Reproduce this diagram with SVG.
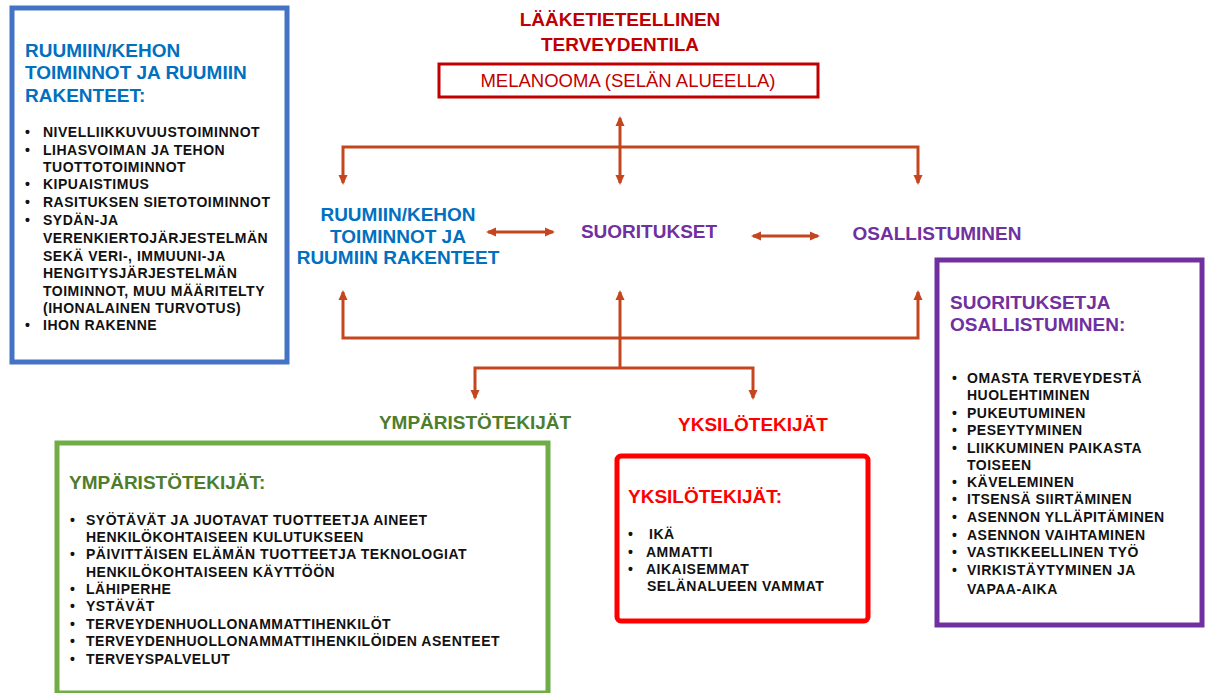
<svg xmlns="http://www.w3.org/2000/svg" width="1208" height="693" viewBox="0 0 1208 693">
<defs>
<style>
text{font-family:"Liberation Sans",Arial,sans-serif;font-weight:bold}
.t18{font-size:19px}
.t17{font-size:19px}
.b{font-size:14px;fill:#111;letter-spacing:0.5px}
.blue{fill:#0070C0}
.purple{fill:#7030A0}
.green{fill:#4E7D2C}
.red{fill:#FF0000}
.dred{fill:#C00000}
.conn path{fill:none;stroke:#C4461E;stroke-width:3}
</style>
<marker id="ah" viewBox="0 0 10 10" refX="8" refY="5" markerWidth="10" markerHeight="10" markerUnits="userSpaceOnUse" orient="auto-start-reverse"><path d="M0,0.5 L10,5 L0,9.5 z" fill="#C4461E"/></marker>
</defs>
<rect width="1208" height="693" fill="#fff"/>

<g id="kehon-box">
<rect x="12" y="8" width="275" height="354" fill="#fff" stroke="#4472C4" stroke-width="5"/>
<text class="t18 blue" x="25" y="57">RUUMIIN/KEHON</text>
<text class="t18 blue" x="25" y="79">TOIMINNOT JA RUUMIIN</text>
<text class="t18 blue" x="25" y="102">RAKENTEET:</text>
<g class="b">
<text x="25" y="137">•</text><text x="43" y="137">NIVELLIIKKUVUUSTOIMINNOT</text>
<text x="25" y="155">•</text><text x="43" y="155">LIHASVOIMAN JA TEHON</text>
<text x="43" y="172">TUOTTOTOIMINNOT</text>
<text x="25" y="189">•</text><text x="43" y="189">KIPUAISTIMUS</text>
<text x="25" y="207">•</text><text x="43" y="207">RASITUKSEN SIETOTOIMINNOT</text>
<text x="25" y="225">•</text><text x="43" y="225">SYDÄN-JA</text>
<text x="43" y="243">VERENKIERTOJÄRJESTELMÄN</text>
<text x="43" y="261">SEKÄ VERI-, IMMUUNI-JA</text>
<text x="43" y="278">HENGITYSJÄRJESTELMÄN</text>
<text x="43" y="296">TOIMINNOT, MUU MÄÄRITELTY</text>
<text x="43" y="313">(IHONALAINEN TURVOTUS)</text>
<text x="25" y="330">•</text><text x="43" y="330">IHON RAKENNE</text>
</g>
</g>

<g id="terveydentila">
<text class="t17 dred" x="620" y="26" text-anchor="middle">LÄÄKETIETEELLINEN</text>
<text class="t17 dred" x="620" y="51" text-anchor="middle">TERVEYDENTILA</text>
<rect x="439" y="64" width="379" height="33" fill="#fff" stroke="#C00000" stroke-width="3"/>
<text x="628" y="87" text-anchor="middle" style="font-weight:normal;font-size:18.5px;fill:#C00000">MELANOOMA (SELÄN ALUEELLA)</text>
</g>

<g id="kehon-label">
<text class="t17 blue" x="398" y="221" text-anchor="middle">RUUMIIN/KEHON</text>
<text class="t17 blue" x="398" y="243" text-anchor="middle">TOIMINNOT JA</text>
<text class="t17 blue" x="398" y="264" text-anchor="middle">RUUMIIN RAKENTEET</text>
</g>
<g id="suoritukset-label">
<text class="t17 purple" x="649" y="238" text-anchor="middle">SUORITUKSET</text>
</g>
<g id="osallistuminen-label">
<text class="t17 purple" x="937" y="240" text-anchor="middle">OSALLISTUMINEN</text>
</g>
<g id="ymparisto-label">
<text class="t17 green" x="475" y="429" text-anchor="middle">YMPÄRISTÖTEKIJÄT</text>
</g>
<g id="yksilo-label">
<text class="t17 red" x="753" y="431" text-anchor="middle">YKSILÖTEKIJÄT</text>
</g>

<g id="osallistuminen-box">
<rect x="937" y="260" width="265" height="365" fill="#fff" stroke="#7030A0" stroke-width="5"/>
<text class="t18 purple" x="950" y="309">SUORITUKSETJA</text>
<text class="t18 purple" x="950" y="331">OSALLISTUMINEN:</text>
<g class="b">
<text x="952" y="383">•</text><text x="967" y="383">OMASTA TERVEYDESTÄ</text>
<text x="967" y="400">HUOLEHTIMINEN</text>
<text x="952" y="418">•</text><text x="967" y="418">PUKEUTUMINEN</text>
<text x="952" y="435">•</text><text x="967" y="435">PESEYTYMINEN</text>
<text x="952" y="453">•</text><text x="967" y="453">LIIKKUMINEN PAIKASTA</text>
<text x="967" y="470">TOISEEN</text>
<text x="952" y="487">•</text><text x="967" y="487">KÄVELEMINEN</text>
<text x="952" y="504">•</text><text x="967" y="504">ITSENSÄ SIIRTÄMINEN</text>
<text x="952" y="522">•</text><text x="967" y="522">ASENNON YLLÄPITÄMINEN</text>
<text x="952" y="540">•</text><text x="967" y="540">ASENNON VAIHTAMINEN</text>
<text x="952" y="557">•</text><text x="967" y="557">VASTIKKEELLINEN TYÖ</text>
<text x="952" y="575">•</text><text x="967" y="575">VIRKISTÄYTYMINEN JA</text>
<text x="967" y="594">VAPAA-AIKA</text>
</g>
</g>

<g id="ymparisto-box">
<rect x="57" y="443" width="491" height="250" fill="#fff" stroke="#70AD47" stroke-width="5"/>
<text class="t17 green" x="69" y="489">YMPÄRISTÖTEKIJÄT:</text>
<g class="b">
<text x="70" y="525">•</text><text x="86" y="525">SYÖTÄVÄT JA JUOTAVAT TUOTTEETJA AINEET</text>
<text x="86" y="542">HENKILÖKOHTAISEEN KULUTUKSEEN</text>
<text x="70" y="559">•</text><text x="86" y="559">PÄIVITTÄISEN ELÄMÄN  TUOTTEETJA TEKNOLOGIAT</text>
<text x="86" y="577">HENKILÖKOHTAISEEN KÄYTTÖÖN</text>
<text x="70" y="594">•</text><text x="86" y="594">LÄHIPERHE</text>
<text x="70" y="611">•</text><text x="86" y="611">YSTÄVÄT</text>
<text x="70" y="629">•</text><text x="86" y="629">TERVEYDENHUOLLONAMMATTIHENKILÖT</text>
<text x="70" y="646">•</text><text x="86" y="646">TERVEYDENHUOLLONAMMATTIHENKILÖIDEN ASENTEET</text>
<text x="70" y="664">•</text><text x="86" y="664">TERVEYSPALVELUT</text>
</g>
</g>

<g id="yksilo-box">
<rect x="617" y="456" width="251" height="165" rx="4" fill="#fff" stroke="#FF0000" stroke-width="5"/>
<text class="t17 red" x="628" y="503">YKSILÖTEKIJÄT:</text>
<g class="b">
<text x="628" y="539">•</text><text x="649" y="539">IKÄ</text>
<text x="628" y="557">•</text><text x="646" y="557">AMMATTI</text>
<text x="628" y="574">•</text><text x="646" y="574">AIKAISEMMAT</text>
<text x="647" y="591">SELÄNALUEEN VAMMAT</text>
</g>
</g>

<g id="connectors" class="conn">
<path d="M620,118 V183" marker-start="url(#ah)" marker-end="url(#ah)"/>
<path d="M620,147 H343 V183" marker-end="url(#ah)"/>
<path d="M620,147 H918 V183" marker-end="url(#ah)"/>
<path d="M488,232 H553" marker-start="url(#ah)" marker-end="url(#ah)"/>
<path d="M753,236 H818" marker-start="url(#ah)" marker-end="url(#ah)"/>
<path d="M620,368 V292" marker-end="url(#ah)"/>
<path d="M620,338 H343 V292" marker-end="url(#ah)"/>
<path d="M620,338 H918 V292" marker-end="url(#ah)"/>
<path d="M620,368 H475 V398" marker-end="url(#ah)"/>
<path d="M620,368 H753 V398" marker-end="url(#ah)"/>
</g>
</svg>
